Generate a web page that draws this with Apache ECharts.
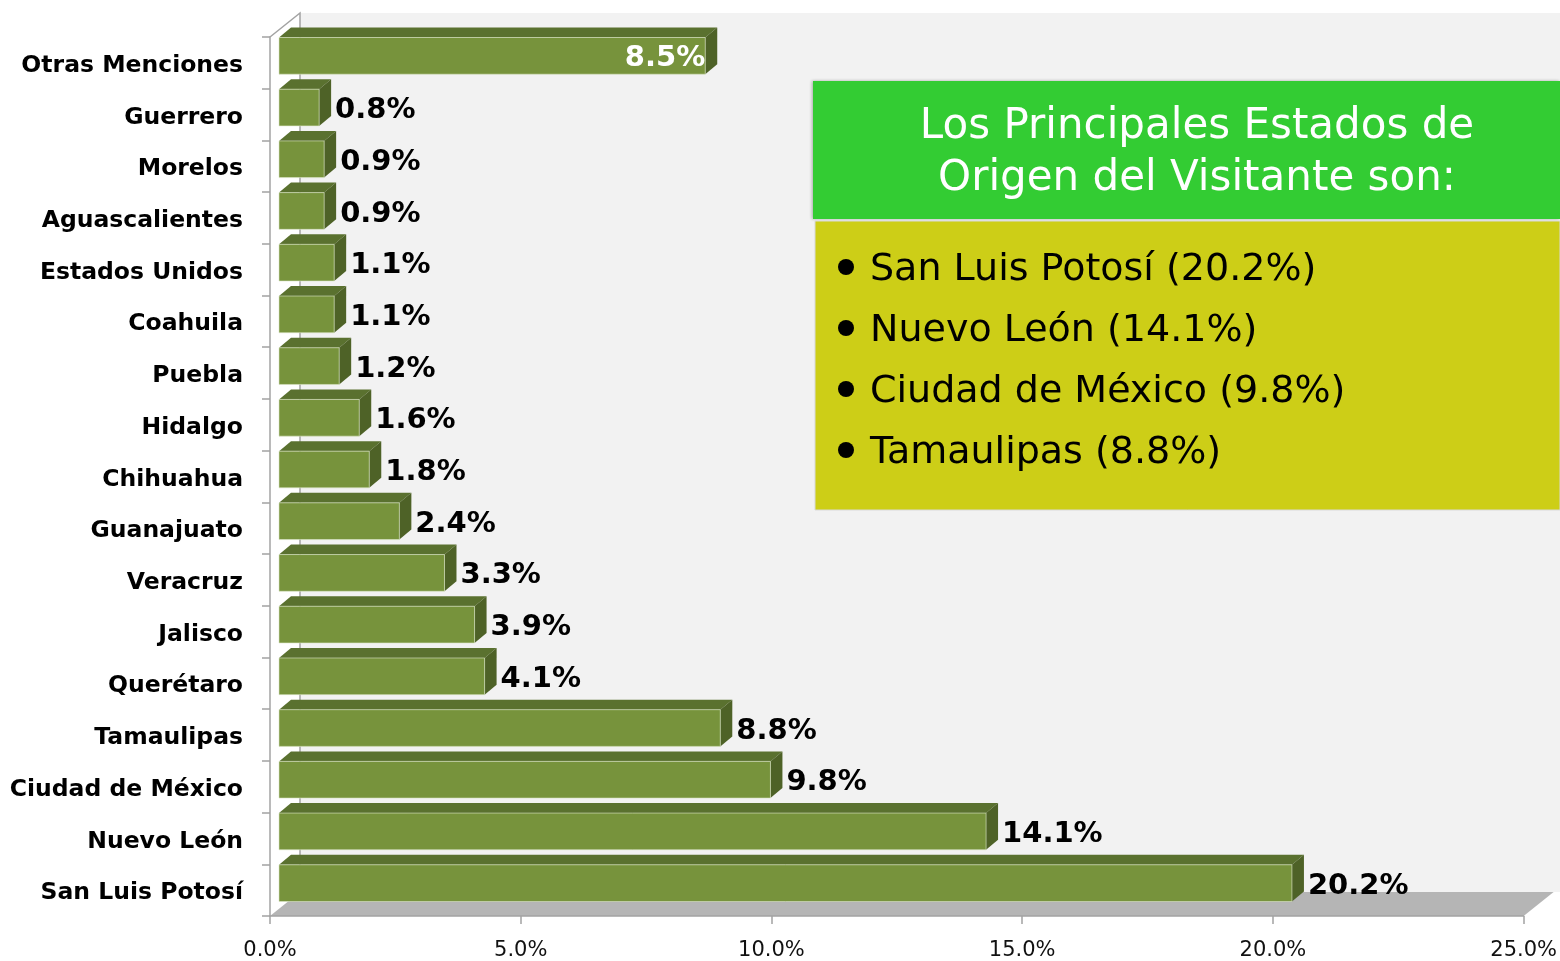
<!DOCTYPE html>
<html>
<head>
<meta charset="utf-8">
<script src="https://cdn.jsdelivr.net/npm/echarts@6/dist/echarts.min.js"></script>
<style>
html,body{margin:0;padding:0;background:#fff;}
#main{width:1560px;height:961px;}
</style>
</head>
<body>
<div id="main"></div>
<script>
// categorias de arriba hacia abajo
var estados = ['Otras Menciones','Guerrero','Morelos','Aguascalientes','Estados Unidos','Coahuila','Puebla','Hidalgo','Chihuahua','Guanajuato','Veracruz','Jalisco','Querétaro','Tamaulipas','Ciudad de México','Nuevo León','San Luis Potosí'];
var porcentajes = [8.5,0.8,0.9,0.9,1.1,1.1,1.2,1.6,1.8,2.4,3.3,3.9,4.1,8.8,9.8,14.1,20.2];
var etiquetaDentro = [0]; // etiqueta blanca dentro de la barra
var ejeX = {min:0,max:25,interval:5};
var tituloCaja = 'Los Principales Estados de\nOrigen del Visitante son:';

var dom = document.getElementById('main');
var myChart = echarts.init(dom);
var FONT = 'DejaVu Sans';
var GRIS = '#a3a3a3';

var renderBar = function(params, api){
    var idx = api.value(0);
    var v = api.value(1);
    var p0 = api.coord([0, idx]);
    var p1 = api.coord([v, idx]);
    var band = api.size([0,1])[1];
    var sx = 9, dx = 12, dy = 10;
    var x0 = p0[0]+sx, x1 = p1[0]+sx;
    var y0 = p0[1]-band/2+0.5;
    var y1 = y0+band*0.71;
    var dentro = etiquetaDentro.indexOf(idx)>=0;
    return {
        type:'group',
        children:[
            {type:'polygon',shape:{points:[[x0,y0],[x0+dx,y0-dy],[x1+dx,y0-dy],[x1,y0]]},style:{fill:'#5a712f'}},
            {type:'polygon',shape:{points:[[x1,y0],[x1+dx,y0-dy],[x1+dx,y1-dy],[x1,y1]]},style:{fill:'#4e6227'}},
            {type:'rect',shape:{x:x0,y:y0,width:x1-x0,height:y1-y0},style:{fill:'#77933c',stroke:'rgba(220,230,200,0.6)',lineWidth:1}},
            {type:'text',z2:10,style:{
                text:v.toFixed(1)+'%',
                x: dentro ? x1 : x1+dx+4,
                y:(y0+y1)/2+3,
                align: dentro ? 'right':'left',
                verticalAlign:'middle',
                fill: dentro ? '#ffffff':'#000000',
                font:'bold 29px "'+FONT+'"'
            }}
        ]
    };
};

var option = {
    backgroundColor:'#ffffff',
    animation:false,
    grid:{left:270,right:36,top:37,bottom:45},
    xAxis:{
        type:'value',min:ejeX.min,max:ejeX.max,interval:ejeX.interval,
        axisLine:{show:true,lineStyle:{color:GRIS,width:1.5}},
        axisTick:{show:true,length:8,lineStyle:{color:GRIS,width:1.5}},
        splitLine:{show:false},
        axisLabel:{
            formatter:function(v){return v.toFixed(1)+'%';},
            fontFamily:FONT,fontSize:21,color:'#111',margin:24
        }
    },
    yAxis:{
        type:'category',inverse:true,data:estados,
        axisLine:{show:true,lineStyle:{color:GRIS,width:1.5}},
        axisTick:{show:true,length:8,lineStyle:{color:GRIS,width:1.5}},
        axisLabel:{
            margin:27,
            formatter:function(v){return '{e|'+v+'}';},
            rich:{e:{fontFamily:FONT,fontWeight:'bold',fontSize:23.5,color:'#000',padding:[6,0,0,0]}}
        }
    },
    series:[{
        type:'custom',
        renderItem:renderBar,
        encode:{x:1,y:0},
        data:porcentajes.map(function(v,i){return [i,v];}),
        z:5
    }]
};
myChart.setOption(option);

// marco 3D (pared, piso) calculado desde los ejes
var L = myChart.convertToPixel({xAxisIndex:0}, ejeX.min);
var R = myChart.convertToPixel({xAxisIndex:0}, ejeX.max);
var c0 = myChart.convertToPixel({yAxisIndex:0}, 0);
var c1 = myChart.convertToPixel({yAxisIndex:0}, 1);
var band = Math.abs(c1-c0);
var T = c0-band/2;
var B = myChart.convertToPixel({yAxisIndex:0}, estados.length-1)+band/2;
var DX = 30, DY = 24;
var W = myChart.getWidth();

// lista de los principales estados
var top4 = porcentajes.map(function(v,i){return {n:estados[i],v:v};})
    .sort(function(a,b){return b.v-a.v;}).slice(0,4);
var lista = [];
top4.forEach(function(d,i){
    var yy = 267+i*61;
    lista.push({type:'circle',z:20,shape:{cx:846,cy:yy,r:8},style:{fill:'#000'}});
    lista.push({type:'text',z:20,style:{text:d.n+' ('+d.v.toFixed(1)+'%)',x:870,y:yy+3,verticalAlign:'middle',font:'38px "'+FONT+'"',fill:'#000'}});
});

myChart.setOption({
    graphic:[
        {type:'rect',z:-3,shape:{x:L+DX,y:T-DY,width:W-(L+DX),height:B-T},style:{fill:'#f2f2f2'}},
        {type:'polyline',z:-2,shape:{points:[[L,T],[L+DX,T-DY],[L+DX,B-DY]]},style:{stroke:GRIS,lineWidth:1.5,fill:null}},
        {type:'polygon',z:-1,shape:{points:[[L,B],[R,B],[R+DX,B-DY],[L+DX,B-DY]]},style:{fill:'#b5b5b5'}},
        {type:'rect',z:15,shape:{x:813,y:81,width:W-813,height:138},style:{fill:'#33cc33',shadowBlur:3,shadowColor:'rgba(0,0,0,0.3)',shadowOffsetX:-1}},
        {type:'text',z:20,style:{text:tituloCaja,x:1197,y:153,align:'center',verticalAlign:'middle',font:'42px "'+FONT+'"',lineHeight:52,fill:'#ffffff'}},
        {type:'rect',z:15,shape:{x:815,y:221,width:W-815,height:289},style:{fill:'#cdce17',stroke:'#d9d9d9',lineWidth:1}}
    ].concat(lista)
});
</script>
</body>
</html>
